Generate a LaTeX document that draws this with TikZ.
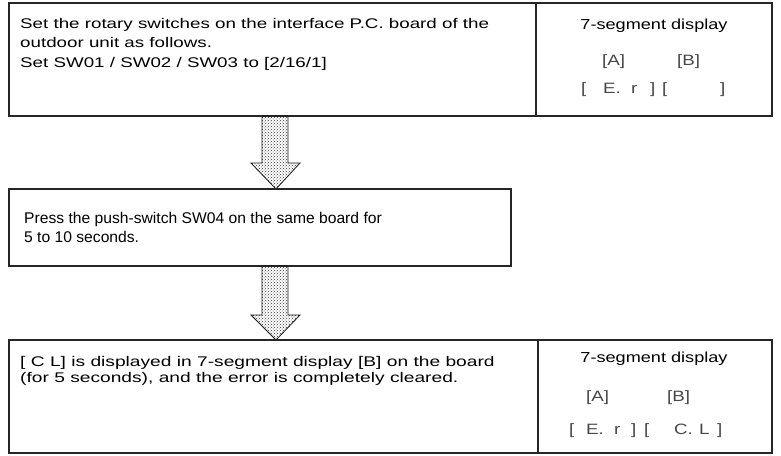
\documentclass[tikz,border=0pt]{standalone}
\usepackage{fontspec}
\setmainfont{Liberation Sans}
\newfontfamily\fontA[FakeStretch=1.34]{Liberation Sans}
\newfontfamily\fontB[FakeStretch=1.01]{Liberation Sans}
\newfontfamily\fontC[FakeStretch=1.37]{Liberation Sans}
\newfontfamily\fontT[FakeStretch=1.25]{Liberation Sans}
\newfontfamily\fontS[FakeStretch=1.25]{Liberation Sans}
\usetikzlibrary{patterns}
\begin{document}
\begin{tikzpicture}[x=1pt,y=-1pt,
  boxline/.style={draw=black!85,line width=1.1pt},
  txta/.style={anchor=base west,inner sep=0pt,font=\fontA\fontsize{14}{17}\selectfont},
  txtb/.style={anchor=base west,inner sep=0pt,font=\fontB\fontsize{15.5}{17}\selectfont},
  txtc/.style={anchor=base west,inner sep=0pt,font=\fontC\fontsize{14}{17}\selectfont},
  seg/.style={anchor=base,inner sep=0pt,font=\fontT\fontsize{14.5}{17}\selectfont},
  segthin/.style={anchor=base west,inner sep=0pt,text=black!72,font=\fontS\fontsize{15}{17}\selectfont},
  bigarrow/.style={draw=black!90,line width=0.8pt,pattern=crosshatch dots,pattern color=black!80}]
\useasboundingbox (0,0) rectangle (781,455);
% box 1
\draw[boxline] (9,3) rectangle (772,116);
\draw[boxline] (536,3) -- (536,116);
\node[txta] (t1a) at (20,28) {Set the rotary switches on the interface P.C. board of the};
\node[txta] (t1b) at (20,47.5) {outdoor unit as follows.};
\node[txta] (t1c) at (20,67) {Set SW01 / SW02 / SW03 to [2/16/1]};
\node[seg] (s1t) at (654,29) {7-segment display};
\node[segthin] (s1a) at (602,65) {[A]};
\node[segthin] (s1b) at (677,65) {[B]};
\node[segthin] (s1c1) at (581,93) {[};
\node[segthin] (s1c2) at (603,93) {E.};
\node[segthin] (s1c3) at (631,93) {r};
\node[segthin] (s1c4) at (650,93) {]};
\node[segthin] (s1c5) at (662,93) {[};
\node[segthin] (s1c6) at (720,93) {]};
% arrow 1
\draw[bigarrow] (262,116) -- (288,116) -- (288,163) -- (300,163) -- (276,189) -- (251,163) -- (262,163) -- cycle;
% box 2
\draw[boxline] (9,189) rectangle (511,266);
\node[txtb] (t2a) at (24,223) {Press the push-switch SW04 on the same board for};
\node[txtb] (t2b) at (24,242) {5 to 10 seconds.};
% arrow 2
\draw[bigarrow] (262,266) -- (288,266) -- (288,315) -- (300,315) -- (276,340) -- (251,315) -- (262,315) -- cycle;
% box 3
\draw[boxline] (9,340) rectangle (772,453);
\draw[boxline] (538,340) -- (538,453);
\node[txtc] (t3a) at (20,366) {[ C L] is displayed in 7-segment display [B] on the board};
\node[txtc] (t3b) at (20,382.5) {(for 5 seconds), and the error is completely cleared.};
\node[seg] (s3t) at (654,362) {7-segment display};
\node[segthin] (s3a) at (586,401) {[A]};
\node[segthin] (s3b) at (667,401) {[B]};
\node[segthin] (s3c1) at (569,434) {[};
\node[segthin] (s3c2) at (586,434) {E.};
\node[segthin] (s3c3) at (614,434) {r};
\node[segthin] (s3c4) at (631,434) {]};
\node[segthin] (s3c5) at (644,434) {[};
\node[segthin] (s3c6) at (674,434) {C.};
\node[segthin] (s3c7) at (699,434) {L};
\node[segthin] (s3c8) at (717,434) {]};
\end{tikzpicture}
\end{document}
